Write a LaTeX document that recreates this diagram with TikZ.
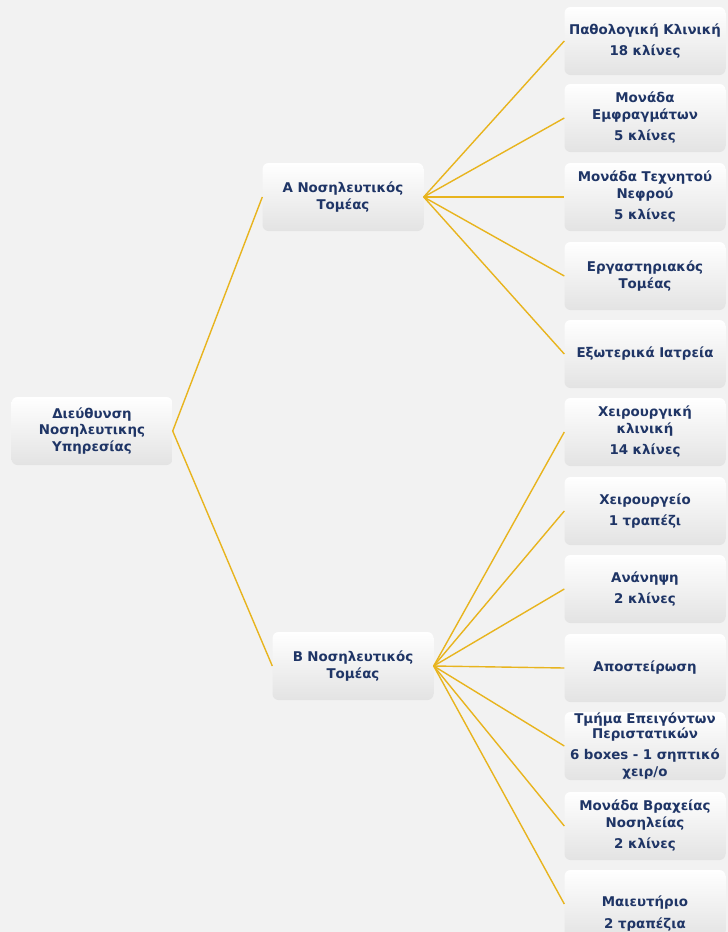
\documentclass[tikz,border=0pt]{standalone}
\usepackage{fontspec}
\setmainfont{DejaVu Sans}
\definecolor{pagebg}{HTML}{F2F2F2}
\definecolor{navy}{HTML}{1F3566}
\definecolor{gold}{HTML}{E8B41E}
\tikzset{
  box/.style={draw=none, rounded corners=6pt, top color=white, bottom color=black!11,
    minimum width=160pt, minimum height=68pt, inner xsep=1pt, inner ysep=0pt,
    text width=159pt, align=center, text=navy,
    font=\bfseries\fontsize{13.4}{16.5}\selectfont},
  link/.style={draw=gold, line width=1.4pt}
}
\begin{document}
\begin{tikzpicture}[x=1pt,y=-1pt]
  \fill[pagebg] (0,0) rectangle (728,932);
  \useasboundingbox (0,0) rectangle (728,932);
  % root and sectors
  \node[box] (root) at (92,431) {Διεύθυνση\\Νοσηλευτικης\\Υπηρεσίας};
  \node[box] (secA) at (343,197) {Α Νοσηλευτικός\\Τομέας};
  \node[box] (secB) at (353,666) {Β Νοσηλευτικός\\Τομέας};
  % units of sector A
  \node[box] (a1) at (645,41) {Παθολογική Κλινική\\[5pt]18 κλίνες};
  \node[box] (a2) at (645,118) {Μονάδα\\Εμφραγμάτων\\[5pt]5 κλίνες};
  \node[box] (a3) at (645,197) {Μονάδα Τεχνητού\\Νεφρού\\[5pt]5 κλίνες};
  \node[box] (a4) at (645,276) {Εργαστηριακός\\Τομέας};
  \node[box] (a5) at (645,354) {Εξωτερικά Ιατρεία};
  % units of sector B
  \node[box] (b1) at (645,432) {Χειρουργική\\κλινική\\[5pt]14 κλίνες};
  \node[box] (b2) at (645,511) {Χειρουργείο\\[5pt]1 τραπέζι};
  \node[box] (b3) at (645,589) {Ανάνηψη\\[5pt]2 κλίνες};
  \node[box] (b4) at (645,668) {Αποστείρωση};
  \node[box] (b5) at (645,746) {Τμήμα Επειγόντων\\[-2pt]Περιστατικών\\[5pt]6 boxes - 1 σηπτικό\\χειρ/ο};
  \node[box] (b6) at (645,826) {Μονάδα Βραχείας\\Νοσηλείας\\[5pt]2 κλίνες};
  \node[box, text height=30pt] (b7) at (645,904) {Μαιευτήριο\\[5pt]2 τραπέζια};
  \begin{scope}[link]
    \draw (root.east) -- (secA.west);
    \draw (root.east) -- (secB.west);
    \foreach \u in {a1,a2,a3,a4,a5}
      \draw (secA.east) -- (\u.west);
    \foreach \u in {b1,b2,b3,b4,b5,b6,b7}
      \draw (secB.east) -- (\u.west);
  \end{scope}
\end{tikzpicture}
\end{document}
